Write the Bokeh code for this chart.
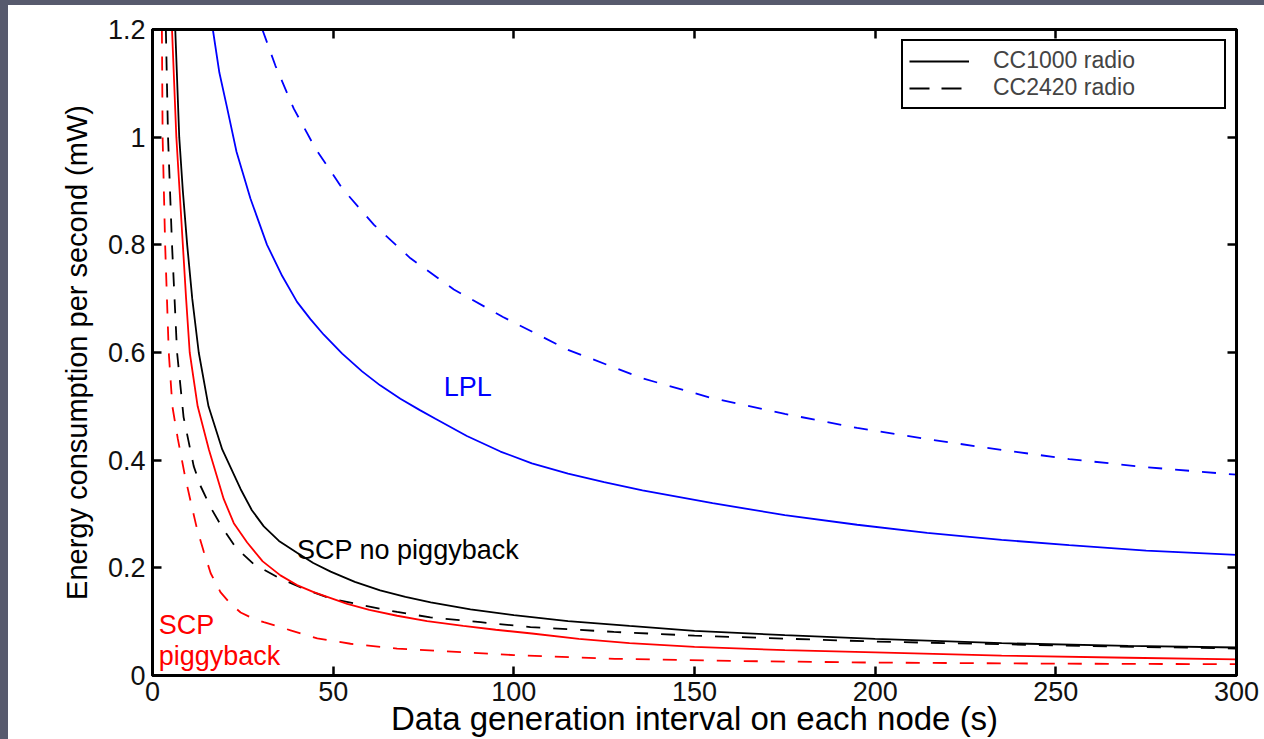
from bokeh.plotting import figure
from bokeh.models import (Range1d, LinearAxis, FixedTicker, CustomJSTickFormatter,
                          Legend, LegendItem, Label, Spacer)
from bokeh.layouts import column, row
from bokeh.embed import file_html
from bokeh.resources import INLINE

# ---------------- data ----------------
x_ticks = [0, 50, 100, 150, 200, 250, 300]
y_ticks = [0, 0.2, 0.4, 0.6, 0.8, 1.0, 1.2]

lpl_cc1000_x = [16.7, 18.5, 20.5, 23.25, 27.1, 31.7, 35.9, 40.0, 43.7, 47.4, 52.5, 58, 63, 68.6,
                74, 78.3, 87, 96.3, 105, 115, 125, 135.6, 155, 175, 195, 214.4, 235, 253.7,
                275, 300]
lpl_cc1000_y = [1.2, 1.12, 1.059, 0.973, 0.886, 0.80, 0.742, 0.694, 0.662, 0.633, 0.598, 0.565,
                0.539, 0.514, 0.493, 0.477, 0.445, 0.416, 0.394, 0.375, 0.359, 0.344, 0.32,
                0.298, 0.28, 0.265, 0.252, 0.242, 0.232, 0.224]

lpl_cc2420_x = [30.4, 34, 39.1, 45.1, 52.5, 61.3, 71.4, 83.4, 97, 115, 135.6, 155, 175, 195,
                214.4, 235, 253.7, 275, 300]
lpl_cc2420_y = [1.2, 1.133, 1.053, 0.979, 0.905, 0.837, 0.775, 0.717, 0.666, 0.605, 0.552, 0.515,
                0.486, 0.46, 0.439, 0.419, 0.402, 0.387, 0.373]

scp_nopig_cc1000_x = [6.3, 7.4, 8.4, 9.6, 11.0, 12.8, 15.5, 19.3, 24.4, 27.5, 30.8, 35, 40, 44.5,
                      49.3, 56, 63, 70, 77, 88, 100, 115, 132, 150, 175, 200, 235, 270, 300]
scp_nopig_cc1000_y = [1.2, 1.0, 0.9, 0.8, 0.7, 0.6, 0.5, 0.42, 0.346, 0.307, 0.277, 0.25, 0.228,
                      0.209, 0.193, 0.174, 0.158, 0.146, 0.136, 0.123, 0.112, 0.101, 0.092,
                      0.083, 0.075, 0.068, 0.06, 0.055, 0.052]

scp_nopig_cc2420_x = [3.7, 4.3, 5.4, 6.8, 8.6, 11.4, 13.3, 16.1, 19.3, 23, 28, 34.5, 41.9, 49.3,
                      58.5, 67.7, 76.9, 90.8, 104.6, 127.7, 150, 200, 250, 300]
scp_nopig_cc2420_y = [1.2, 1.0, 0.8, 0.6, 0.48, 0.389, 0.352, 0.312, 0.275, 0.238, 0.207, 0.183,
                      0.161, 0.143, 0.13, 0.118, 0.108, 0.099, 0.09, 0.081, 0.074, 0.063, 0.056, 0.05]

scp_pig_cc1000_x = [5.4, 6.6, 7.5, 8.4, 9.3, 10.3, 12.5, 15.6, 19.7, 22.5, 26.2, 30.5, 35.4, 40,
                    44.6, 53.9, 60, 67.7, 76, 86, 95, 105, 118, 132, 150, 175, 200, 235, 270, 300]
scp_pig_cc1000_y = [1.2, 1.0, 0.9, 0.8, 0.7, 0.6, 0.5, 0.42, 0.328, 0.283, 0.247, 0.212, 0.186,
                    0.168, 0.155, 0.133, 0.122, 0.111, 0.101, 0.092, 0.085, 0.078, 0.068, 0.06,
                    0.053, 0.047, 0.043, 0.037, 0.033, 0.030]

scp_pig_cc2420_x = [2.6, 2.8, 3.5, 4.5, 5.5, 7.0, 9.0, 10.5, 12.4, 14.2, 16.1, 18.8, 21.6, 24.4,
                    27.5, 30.8, 38.2, 45.6, 54.8, 67.7, 86, 100, 128, 160, 200, 250, 300]
scp_pig_cc2420_y = [1.2, 1.0, 0.8, 0.6, 0.5, 0.44, 0.37, 0.325, 0.27, 0.23, 0.19, 0.155, 0.133,
                    0.117, 0.107, 0.099, 0.084, 0.069, 0.059, 0.05, 0.043, 0.038, 0.031, 0.027,
                    0.024, 0.022, 0.021]

legend_labels = ["CC1000 radio", "CC2420 radio"]
x_title = "Data generation interval on each node (s)"
y_title = "Energy consumption per second (mW)"

# ---------------- styling ----------------
FONT = "Liberation Sans"
SLATE = "#575a6d"
DASH = "14 13"

p = figure(width=1256, height=734, x_range=Range1d(0, 300), y_range=Range1d(0, 1.2),
           output_backend="svg", toolbar_location=None,
           min_border_left=144, min_border_right=28, min_border_top=24, min_border_bottom=62)
p.background_fill_color = "white"
p.border_fill_color = "white"
p.xgrid.visible = False
p.ygrid.visible = False
p.outline_line_color = "black"
p.outline_line_width = 3

ytick_fmt = CustomJSTickFormatter(code="return (Math.round(tick*10)/10).toString();")


def style_axis(ax, labels=True):
    ax.axis_line_color = "black"
    ax.axis_line_width = 3
    ax.major_tick_in = 9
    ax.major_tick_out = 0
    ax.major_tick_line_width = 2.5
    ax.major_tick_line_color = "black"
    ax.minor_tick_line_color = None
    if labels:
        ax.major_label_text_font = FONT
        ax.major_label_text_font_size = "27px"
        ax.major_label_text_color = "#111111"
    else:
        ax.major_label_text_font_size = "0px"
        ax.major_label_standoff = 0


xa = p.xaxis[0]
xa.ticker = FixedTicker(ticks=x_ticks)
style_axis(xa)
xa.major_label_standoff = 6
xa.axis_label = x_title
xa.axis_label_text_font = FONT
xa.axis_label_text_font_size = "33px"
xa.axis_label_text_font_style = "normal"
xa.axis_label_text_color = "black"
xa.axis_label_standoff = -4

ya = p.yaxis[0]
ya.ticker = FixedTicker(ticks=y_ticks)
ya.formatter = ytick_fmt
style_axis(ya)
ya.major_label_standoff = 7
ya.axis_label = y_title
ya.axis_label_text_font = FONT
ya.axis_label_text_font_size = "29px"
ya.axis_label_text_font_style = "normal"
ya.axis_label_text_color = "black"
ya.axis_label_standoff = 12

top_ax = LinearAxis(ticker=FixedTicker(ticks=x_ticks),
                    formatter=CustomJSTickFormatter(code="return '';"))
style_axis(top_ax, labels=False)
p.add_layout(top_ax, "above")
right_ax = LinearAxis(ticker=FixedTicker(ticks=y_ticks),
                      formatter=CustomJSTickFormatter(code="return '';"))
style_axis(right_ax, labels=False)
p.add_layout(right_ax, "right")

# ---------------- curves ----------------
LW = 1.8
p.line(lpl_cc1000_x, lpl_cc1000_y, line_color="#0000ff", line_width=LW)
p.line(lpl_cc2420_x, lpl_cc2420_y, line_color="#0000ff", line_width=LW, line_dash=DASH)
p.line(scp_nopig_cc1000_x, scp_nopig_cc1000_y, line_color="black", line_width=LW)
p.line(scp_nopig_cc2420_x, scp_nopig_cc2420_y, line_color="black", line_width=LW, line_dash=DASH)
p.line(scp_pig_cc1000_x, scp_pig_cc1000_y, line_color="#ff0000", line_width=LW)
p.line(scp_pig_cc2420_x, scp_pig_cc2420_y, line_color="#ff0000", line_width=LW, line_dash=DASH)

# ---------------- annotations ----------------
def add_label(x, y, text, color):
    p.add_layout(Label(x=x, y=y, text=text, text_color=color, text_font=FONT,
                       text_font_size="27px", text_baseline="alphabetic", text_align="left"))


add_label(80.6, 0.536, "LPL", "#0000ff")
add_label(40.0, 0.234, "SCP no piggyback", "black")
add_label(1.7, 0.093, "SCP", "#ff0000")
add_label(1.7, 0.037, "piggyback", "#ff0000")

# ---------------- legend (black line samples; samples lie outside the view) ----------------
leg_solid = p.line(x=[-50, -40], y=[-1, -1], line_color="black", line_width=2.2)
leg_dash = p.line(x=[-50, -40], y=[-1, -1], line_color="black", line_width=2.2,
                  line_dash="20 12")
legend = Legend(items=[LegendItem(label=legend_labels[0], renderers=[leg_solid]),
                       LegendItem(label=legend_labels[1], renderers=[leg_dash])],
                location="top_right", margin=10, padding=6, spacing=0,
                glyph_width=60, glyph_height=20, label_standoff=24, label_width=225,
                label_text_font=FONT, label_text_font_size="23px",
                border_line_color="black", border_line_width=2.5, border_line_alpha=1.0,
                background_fill_color="white", background_fill_alpha=1.0)
p.add_layout(legend)

# ---------------- page frame (slide background strips) ----------------
left_strip = Spacer(width=8, height=734, styles={"background-color": SLATE})
top_strip = Spacer(width=1264, height=5, styles={"background-color": SLATE})
layout = column(top_strip, row(left_strip, p, spacing=0), spacing=0)

open("out.html", "w").write(file_html(layout, INLINE))
